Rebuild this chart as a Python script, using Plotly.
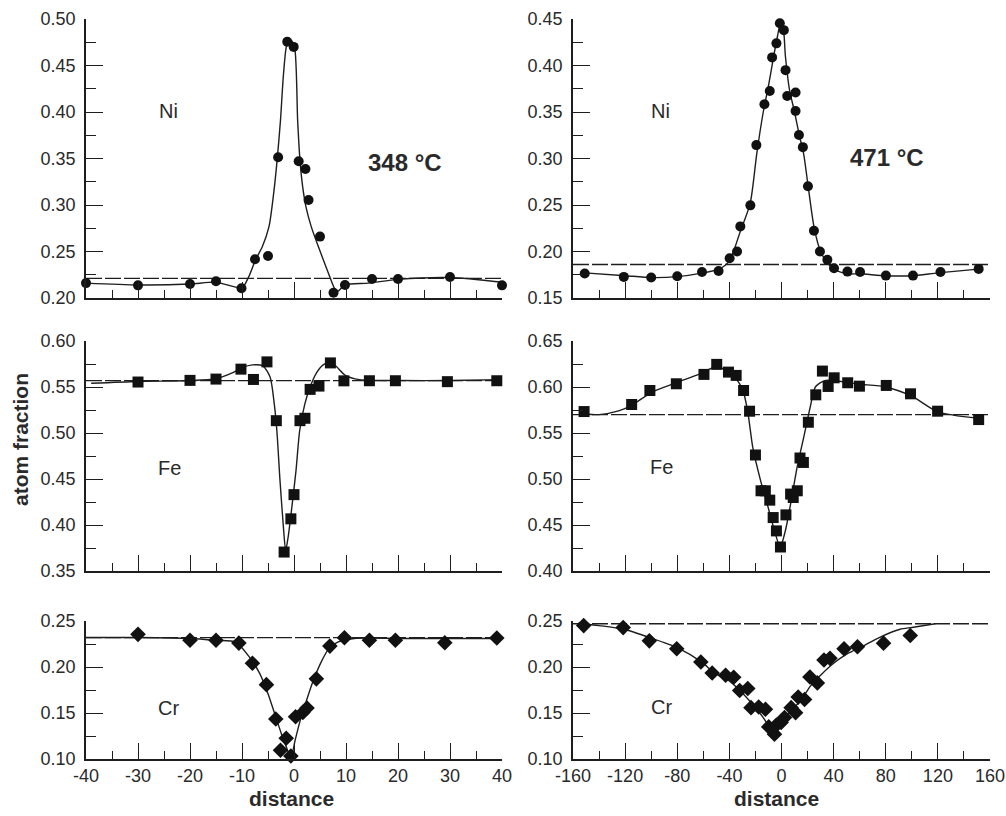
import plotly.graph_objects as go

# ---------------- data: atom-fraction profiles across a boundary ----------------
# 348 °C
ni348_x = [-40, -30, -20, -15, -10.1, -7.5, -5.0, -3.05, -1.3, -0.06, 0.9, 2.2, 2.8, 5.0, 7.6, 9.8, 15, 20, 30, 40]
ni348_y = [0.216, 0.2136, 0.215, 0.218, 0.2104, 0.2416, 0.2452, 0.3513, 0.4756, 0.470, 0.347, 0.3387, 0.3054, 0.266, 0.2057, 0.214, 0.2205, 0.2205, 0.2226, 0.2136]
ni348_fit_x = [-40, -30, -20, -15, -10, -8.7, -7.4, -6.1, -4.8, -3.9, -3.25, -2.6, -2.0, -1.3, -0.6, 0.1, 0.7, 1.15, 1.66, 2.3, 3.3, 4.7, 6.6, 7.9, 8.4, 9.8, 14.3, 20, 30, 40]
ni348_fit_y = [0.216, 0.214, 0.215, 0.217, 0.211, 0.223, 0.241, 0.255, 0.277, 0.313, 0.348, 0.391, 0.442, 0.474, 0.477, 0.470, 0.391, 0.348, 0.320, 0.298, 0.277, 0.255, 0.227, 0.209, 0.207, 0.214, 0.216, 0.220, 0.222, 0.217]
ni348_ref = 0.221

fe348_x = [-30, -20, -15, -10.2, -7.8, -5.2, -3.4, -1.9, -0.6, 0.0, 1.15, 2.1, 3.1, 4.8, 7.0, 9.6, 14.5, 19.5, 29.5, 39]
fe348_y = [0.5554, 0.5572, 0.5586, 0.5694, 0.5582, 0.5773, 0.5134, 0.3706, 0.4067, 0.433, 0.5134, 0.516, 0.5474, 0.551, 0.5762, 0.5567, 0.5568, 0.5568, 0.5558, 0.5568]
fe348_fit_x = [-39, -30, -20, -15, -12, -10, -8, -6, -4.6, -3.8, -3.3, -2.7, -2.0, -1.6, -1.1, -0.4, 0.4, 1.1, 2.1, 3.1, 4.3, 5.6, 6.9, 8.2, 9.8, 12.6, 20, 30, 40]
fe348_fit_y = [0.554, 0.556, 0.557, 0.559, 0.565, 0.571, 0.574, 0.573, 0.561, 0.532, 0.503, 0.449, 0.395, 0.372, 0.388, 0.420, 0.460, 0.503, 0.532, 0.550, 0.565, 0.574, 0.577, 0.572, 0.563, 0.558, 0.557, 0.557, 0.558]
fe348_ref = 0.557

cr348_x = [-30, -20, -15, -10.6, -8.0, -5.3, -3.5, -2.6, -1.5, -0.6, 0.3, 1.7, 2.5, 4.3, 6.9, 9.7, 14.5, 19.5, 29, 39]
cr348_y = [0.2355, 0.229, 0.229, 0.226, 0.2041, 0.1808, 0.1434, 0.1095, 0.1226, 0.1033, 0.1459, 0.1506, 0.1554, 0.1871, 0.2227, 0.2318, 0.229, 0.229, 0.2264, 0.2315]
cr348_fit_x = [-40, -30, -20, -15, -11.2, -8.6, -6.6, -5.0, -3.7, -2.4, -1.4, -0.6, 0.2, 1.2, 2.2, 3.5, 5.1, 6.7, 8.4, 11.6, 20, 30, 40]
cr348_fit_y = [0.232, 0.232, 0.231, 0.229, 0.227, 0.211, 0.193, 0.171, 0.149, 0.127, 0.112, 0.101, 0.120, 0.142, 0.160, 0.182, 0.204, 0.220, 0.227, 0.231, 0.231, 0.231, 0.231]
cr348_ref = 0.232

# 471 °C
ni471_x = [-151, -121, -100, -80, -61, -48.3, -39.8, -34.1, -31.6, -23.9, -19.3, -13.1, -9, -7.2, -3.9, -1.3, 1.8, 3.1, 4.4, 10.8, 10.8, 13.4, 16.4, 20.3, 24.9, 29.5, 35.2, 40.3, 50.6, 60.3, 80.1, 100.9, 122, 151.3]
ni471_y = [0.1763, 0.1727, 0.172, 0.1734, 0.178, 0.1791, 0.1928, 0.200, 0.227, 0.2496, 0.3144, 0.3583, 0.3726, 0.4087, 0.4238, 0.4454, 0.438, 0.395, 0.3672, 0.3709, 0.351, 0.3252, 0.3122, 0.2701, 0.2223, 0.200, 0.191, 0.182, 0.1784, 0.178, 0.1741, 0.1741, 0.178, 0.1813]
ni471_fit_x = [-151, -120, -100, -80, -60, -48, -40, -32, -24, -19, -14, -10, -6, -3, -1, 1, 3, 6, 10, 14, 17, 20, 25, 30, 35, 40, 50, 60, 80, 100, 120, 151]
ni471_fit_y = [0.177, 0.174, 0.172, 0.173, 0.177, 0.181, 0.190, 0.220, 0.252, 0.305, 0.350, 0.378, 0.410, 0.432, 0.444, 0.442, 0.410, 0.375, 0.350, 0.323, 0.305, 0.275, 0.226, 0.200, 0.188, 0.181, 0.176, 0.176, 0.174, 0.174, 0.177, 0.181]
ni471_ref = 0.186

fe471_x = [-151.5, -115, -101, -80.7, -59.5, -49.7, -40.7, -34.8, -29.1, -24.5, -20, -15.7, -12.4, -9, -6.4, -3.9, -0.8, 3.4, 7.0, 9, 12.1, 14.2, 16.8, 20.6, 26.3, 31.4, 35.8, 40.4, 50.8, 59.8, 80.4, 99, 119.8, 151.3]
fe471_y = [0.5733, 0.581, 0.5962, 0.6035, 0.6137, 0.6246, 0.6162, 0.6126, 0.5962, 0.5737, 0.5261, 0.4872, 0.4872, 0.477, 0.4581, 0.4436, 0.4261, 0.461, 0.4836, 0.4799, 0.4872, 0.5228, 0.518, 0.5617, 0.5915, 0.6173, 0.6006, 0.610, 0.6046, 0.6009, 0.6017, 0.5926, 0.5737, 0.5646]
fe471_fit_x = [-152, -140, -125, -115, -100, -80, -63, -50, -38, -30, -26, -22, -16, -11, -6, -1, 3, 7, 12, 17, 22, 26, 33, 40, 50, 60, 80, 100, 120, 151]
fe471_fit_y = [0.571, 0.570, 0.574, 0.580, 0.594, 0.605, 0.614, 0.622, 0.614, 0.598, 0.574, 0.534, 0.498, 0.473, 0.447, 0.426, 0.444, 0.473, 0.513, 0.545, 0.578, 0.600, 0.607, 0.607, 0.605, 0.603, 0.600, 0.590, 0.573, 0.566]
fe471_ref = 0.570

cr471_x = [-151.8, -121.5, -101.4, -80.4, -61.9, -53.2, -42.9, -36.7, -32.1, -25.9, -23.4, -17.5, -12.3, -9.8, -5.4, -3.9, -0.3, 2.3, 7.4, 10.8, 12.8, 17.7, 21.8, 27.5, 32.6, 37.2, 48, 58.3, 78.3, 98.8, 117.8]
cr471_y = [0.245, 0.2428, 0.2284, 0.2198, 0.2054, 0.1935, 0.191, 0.1888, 0.1745, 0.1766, 0.1558, 0.1565, 0.154, 0.1349, 0.127, 0.137, 0.1396, 0.145, 0.1558, 0.1504, 0.1673, 0.1647, 0.1892, 0.1827, 0.2076, 0.2094, 0.2198, 0.222, 0.2259, 0.2342, 0.2511]
cr471_fit_x = [-156, -140, -121, -101, -80, -61, -51, -41, -31, -22, -14, -8, -4, -0.5, 7, 15, 22, 30, 40, 50, 63, 75, 91, 100, 118]
cr471_fit_y = [0.2475, 0.245, 0.241, 0.232, 0.221, 0.205, 0.193, 0.186, 0.173, 0.159, 0.145, 0.132, 0.129, 0.139, 0.152, 0.164, 0.179, 0.191, 0.204, 0.214, 0.223, 0.232, 0.241, 0.243, 0.247]
cr471_ref = 0.247

# axis ranges and tick labels
x348_range = [-40, 40]
x471_range = [-160, 160]
x348_ticks = [-40, -30, -20, -10, 0, 10, 20, 30, 40]
x348_labels = ["-40", "-30", "-20", "-10", "0", "10", "20", "30", "40"]
x471_ticks = [-160, -120, -80, -40, 0, 40, 80, 120, 160]
x471_labels = ["-160", "-120", "-80", "-40", "0", "40", "80", "120", "160"]
y_ranges = {
    "ni348": [0.20, 0.50], "ni471": [0.15, 0.45],
    "fe348": [0.35, 0.60], "fe471": [0.40, 0.65],
    "cr348": [0.10, 0.25], "cr471": [0.10, 0.25],
}

# ---------------- layout geometry (pixels) ----------------
W, H = 1006, 816
FONT = "Arial, Liberation Sans, Helvetica, sans-serif"
INK = "#1e1e1e"
TXT = "#2a2a2a"


def px_x(p):
    return p / W


def px_y(p):
    return 1 - p / H


col_px = {"L": (86, 502), "R": (573, 990)}
row_px = {"top": (19, 298), "mid": (341, 571), "bot": (621, 759)}

panels = [
    # key, column, row, marker, x data, y data, fit x, fit y, ref level, x range
    ("ni348", "L", "top", "circle", ni348_x, ni348_y, ni348_fit_x, ni348_fit_y, ni348_ref, x348_range),
    ("ni471", "R", "top", "circle", ni471_x, ni471_y, ni471_fit_x, ni471_fit_y, ni471_ref, x471_range),
    ("fe348", "L", "mid", "square", fe348_x, fe348_y, fe348_fit_x, fe348_fit_y, fe348_ref, x348_range),
    ("fe471", "R", "mid", "square", fe471_x, fe471_y, fe471_fit_x, fe471_fit_y, fe471_ref, x471_range),
    ("cr348", "L", "bot", "diamond", cr348_x, cr348_y, cr348_fit_x, cr348_fit_y, cr348_ref, x348_range),
    ("cr471", "R", "bot", "diamond", cr471_x, cr471_y, cr471_fit_x, cr471_fit_y, cr471_ref, x471_range),
]
marker_size = {"circle": 10, "square": 11, "diamond": 12}

fig = go.Figure()
layout_axes = {}

for i, (key, col, row, sym, xs, ys, fx, fy, ref, xr) in enumerate(panels, start=1):
    sfx = "" if i == 1 else str(i)
    xa, ya = "x" + sfx, "y" + sfx

    # reference (bulk) level
    fig.add_trace(go.Scatter(
        x=xr, y=[ref, ref], xaxis=xa, yaxis=ya, mode="lines",
        line=dict(color=INK, width=1.3, dash="16px,3px"), hoverinfo="skip", showlegend=False))
    # fitted profile
    fig.add_trace(go.Scatter(
        x=fx, y=fy, xaxis=xa, yaxis=ya, mode="lines",
        line=dict(color=INK, width=1.4, shape="spline", smoothing=0.7),
        hoverinfo="skip", showlegend=False))
    # measured points
    fig.add_trace(go.Scatter(
        x=xs, y=ys, xaxis=xa, yaxis=ya, mode="markers", cliponaxis=False,
        marker=dict(symbol=sym, size=marker_size[sym], color="#111111", line=dict(width=0)),
        showlegend=False))

    left = col == "L"
    bottom = row == "bot"
    x0, x1 = col_px[col]
    y0, y1 = row_px[row]
    xdtick_minor = 5 if left else 20

    layout_axes["xaxis" + sfx] = dict(
        domain=[px_x(x0), px_x(x1)], range=xr, anchor=ya, automargin=False,
        showline=True, linecolor=INK, linewidth=1.5, mirror=False,
        showgrid=False, zeroline=False,
        ticks="inside", ticklen=16, tickwidth=1.3, tickcolor=INK,
        tickmode="array", tickvals=x348_ticks if left else x471_ticks,
        ticktext=x348_labels if left else x471_labels,
        showticklabels=bottom, ticklabelstandoff=0,
        tickfont=dict(family=FONT, size=18, color=TXT),
        minor=dict(ticks="inside", ticklen=8, tickwidth=1.2, tickcolor=INK,
                   dtick=xdtick_minor, tick0=0, showgrid=False),
    )
    layout_axes["yaxis" + sfx] = dict(
        domain=[px_y(y1), px_y(y0)], range=y_ranges[key], anchor=xa, automargin=False,
        showline=True, linecolor=INK, linewidth=1.5, mirror=False,
        showgrid=False, zeroline=False,
        ticks="inside", ticklen=17, tickwidth=1.3, tickcolor=INK,
        dtick=0.05, tick0=0, tickformat=".2f", ticklabelstandoff=5,
        tickfont=dict(family=FONT, size=18, color=TXT),
        minor=dict(ticks="inside", ticklen=10, tickwidth=1.2, tickcolor=INK,
                   dtick=0.025, tick0=0, showgrid=False),
    )

annotations = []


def label(text, xp, yp, size, bold=False, angle=0):
    annotations.append(dict(
        text=f"<b>{text}</b>" if bold else text, x=px_x(xp), y=px_y(yp),
        xref="paper", yref="paper", showarrow=False, textangle=angle,
        xanchor="center", yanchor="middle",
        font=dict(family=FONT, size=size, color=TXT)))


label("Ni", 168, 111, 20)
label("Ni", 660, 111, 20)
label("348 °C", 405, 163, 24, bold=True)
label("471 °C", 887, 158, 24, bold=True)
label("Fe", 169, 468, 20)
label("Fe", 661, 467, 20)
label("Cr", 168, 708, 20)
label("Cr", 661, 707, 20)
label("distance", 291, 798, 21, bold=True)
label("distance", 776, 798, 21, bold=True)
label("atom fraction", 20, 440, 21, bold=True, angle=-90)

fig.update_layout(
    width=W, height=H, margin=dict(l=0, r=0, t=0, b=0, autoexpand=False),
    paper_bgcolor="white", plot_bgcolor="white",
    annotations=annotations, **layout_axes)

fig.write_html("out.html")
